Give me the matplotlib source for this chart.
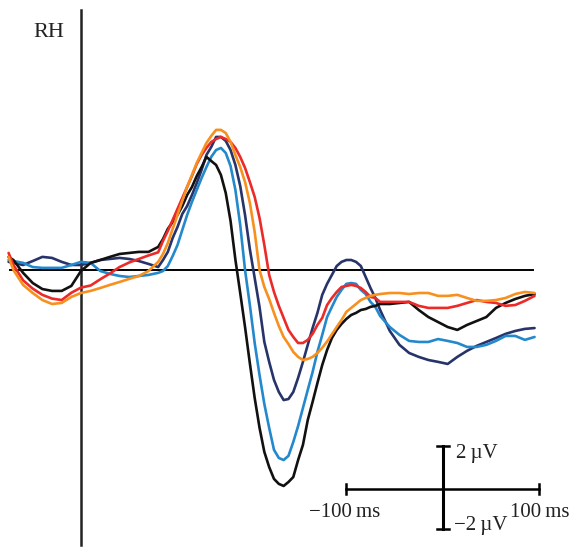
import matplotlib
matplotlib.use("Agg")
import matplotlib.pyplot as plt

# time axis in ms (common to every curve), finer around the peaks
times = ([-75, -70] + list(range(-60, 80, 10)) + list(range(80, 310, 5))
         + list(range(310, 471, 10)))

# ERP amplitudes in microvolts
black = [0.63, 0.48, -0.14, -0.63, -0.92, -1.01, -1.01, -0.77, -0.05, 0.34,
         0.48, 0.63, 0.77, 0.82, 0.87, 0.87,
         1.11, 1.49, 1.98, 2.31, 2.65, 3.08, 3.61, 4.00, 4.53, 4.96,
         5.45, 5.25, 5.06, 4.58, 3.71, 2.36, 0.50, -1.11, -2.75, -4.50,
         -6.17, -7.60, -8.77, -9.50, -10.07, -10.31, -10.41, -10.22, -9.98, -9.16,
         -8.43, -7.23, -6.36, -5.45, -4.58, -3.86, -3.28, -2.89, -2.60, -2.36,
         -2.17, -2.07, -1.93, -1.88, -1.78, -1.73,
         -1.64, -1.64, -1.59, -1.54, -1.93, -2.27, -2.51, -2.75, -2.89, -2.65,
         -2.46, -2.27, -1.83, -1.59, -1.40, -1.25, -1.16]
navy = [0.39, 0.34, 0.24, 0.43, 0.63, 0.58, 0.39, 0.24, 0.24, 0.34,
        0.48, 0.53, 0.58, 0.53, 0.43, 0.29,
        0.14, 0.48, 0.87, 1.54, 2.07, 2.70, 3.08, 3.61, 4.19, 4.82,
        5.54, 5.93, 6.41, 6.41, 6.22, 5.78, 5.06, 4.05, 2.65, 1.00,
        -0.39, -1.78, -3.47, -4.43, -5.30, -5.88, -6.27, -6.22, -5.88, -5.20,
        -4.43, -3.61, -2.80, -2.07, -1.20, -0.67, -0.24, 0.19, 0.39, 0.48,
        0.48, 0.39, 0.19, -0.34, -0.87, -1.35,
        -1.93, -2.94, -3.61, -4.00, -4.19, -4.34, -4.43, -4.53, -4.19, -3.90,
        -3.66, -3.47, -3.28, -3.08, -2.94, -2.84, -2.80]
light_blue = [0.48, 0.43, 0.34, 0.14, 0.10, 0.10, 0.10, 0.24, 0.39, 0.34,
              -0.05, -0.19, -0.29, -0.34, -0.29, -0.24,
              -0.14, -0.05, 0.19, 0.67, 1.20, 1.93, 2.65, 3.28, 3.86, 4.43,
              4.96, 5.45, 5.78, 5.88, 5.64, 5.01, 3.86, 2.17, 0.00, -1.69,
              -3.52, -5.06, -6.46, -7.61, -8.67, -9.06, -9.16, -8.96, -8.29, -7.52,
              -6.65, -5.78, -4.92, -3.95, -3.13, -2.27, -1.78, -1.30, -0.96, -0.67,
              -0.63, -0.67, -0.96, -1.16, -1.54, -1.78,
              -2.22, -2.75, -3.13, -3.42, -3.47, -3.47, -3.33, -3.42, -3.52, -3.71,
              -3.71, -3.61, -3.42, -3.18, -3.18, -3.37, -3.23]
red = [0.82, 0.24, -0.50, -0.90, -1.20, -1.38, -1.45, -1.10, -0.85, -0.75,
       -0.45, -0.17, 0.14, 0.36, 0.53, 0.70,
       0.85, 1.40, 1.88, 2.41, 2.94, 3.47, 4.00, 4.53, 5.11, 5.54,
       5.88, 6.17, 6.31, 6.41, 6.31, 6.17, 5.88, 5.45, 4.92, 4.24,
       3.52, 2.51, 1.20, -0.24, -1.06, -1.73, -2.31, -2.89, -3.23, -3.52,
       -3.52, -3.37, -3.08, -2.65, -2.31, -1.69, -1.35, -1.06, -0.82, -0.77,
       -0.72, -0.77, -0.87, -1.06, -1.30, -1.35,
       -1.54, -1.54, -1.54, -1.54, -1.73, -1.83, -1.83, -1.83, -1.73, -1.59,
       -1.45, -1.54, -1.59, -1.73, -1.69, -1.49, -1.25]
orange = [0.63, 0.00, -0.72, -1.11, -1.45, -1.64, -1.59, -1.30, -1.11, -1.01,
          -0.87, -0.72, -0.58, -0.43, -0.29, -0.05,
          0.39, 0.77, 1.30, 1.98, 2.65, 3.33, 4.00, 4.58, 5.16, 5.64,
          6.12, 6.46, 6.75, 6.75, 6.60, 6.17, 5.54, 4.96, 4.24, 3.23,
          1.83, 0.00, -0.82, -1.40, -2.07, -2.70, -3.23, -3.57, -3.95, -4.19,
          -4.34, -4.29, -4.19, -4.00, -3.75, -3.45, -3.10, -2.75, -2.41, -2.02,
          -1.83, -1.64, -1.45, -1.35, -1.25, -1.20,
          -1.16, -1.11, -1.11, -1.16, -1.11, -1.11, -1.25, -1.25, -1.20, -1.35,
          -1.49, -1.49, -1.45, -1.35, -1.16, -1.06, -1.11]

series = [(navy, "#27346a"), (light_blue, "#2389cc"), (black, "#111111"),
          (red, "#ec2a27"), (orange, "#f7901e")]

fig = plt.figure(figsize=(5.75, 5.48), dpi=100)
ax = fig.add_axes([0, 0, 1, 1])
ax.set_xlim(-83.9, 511.9)
ax.set_ylim(-13.40, 13.01)
ax.axis("off")

# axes through zero
ax.plot([-74, 468], [0, 0], color="black", lw=1.4, zorder=1)
ax.plot([0, 0], [-13.25, 12.55], color="#222222", lw=1.8, zorder=1)

for vals, col in series:
    ax.plot(times, vals, color=col, lw=1.9, solid_joinstyle="round",
            solid_capstyle="round", zorder=3)

# scale bar: 200 ms wide, 4 uV tall
ax.plot([275, 475], [-10.55, -10.55], color="black", lw=1.8)
for tx in (275, 475):
    ax.plot([tx, tx], [-10.3, -10.8], color="black", lw=1.8)
ax.plot([375, 375], [-8.48, -12.48], color="black", lw=2.2)
for vy in (-8.48, -12.48):
    ax.plot([369, 381], [vy, vy], color="black", lw=1.8)

font = {"family": "Liberation Serif", "color": "#222222"}
ax.text(-49, 11.24, "RH", fontsize=16, va="baseline", ha="left", **font)
ax.text(389, -9.06, "2\u2009µV", fontsize=15, va="baseline", ha="left", **font)
ax.text(387, -12.53, "\u22122\u2009µV", fontsize=15, va="baseline", ha="left", **font)
ax.text(273, -11.9, "\u2212100\u2009ms", fontsize=15, va="baseline", ha="center", **font)
ax.text(475, -11.9, "100\u2009ms", fontsize=15, va="baseline", ha="center", **font)

fig.savefig("out.png", dpi=100)
